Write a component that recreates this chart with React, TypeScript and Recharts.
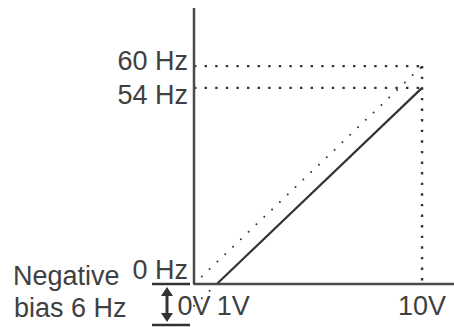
import { LineChart, Line, XAxis, YAxis, ReferenceLine, Customized } from "recharts";

// control voltage (V) and output frequency (Hz)
const voltTicks = [0, 1, 10];
const hzTicks = [0, 54, 60];

const outputV = [1, 10];
const outputHz = [0, 54];
const fullScaleV = [0, 10];
const fullScaleHz = [0, 60];
const biasV = [0, 1];
const biasHz = [-6, 0];

const outputLine = outputV.map((v, i) => ({ v, hz: outputHz[i] }));
const fullScaleLine = fullScaleV.map((v, i) => ({ v, hz: fullScaleHz[i] }));

const FONT = '"Liberation Sans", Arial, sans-serif';
const TEXT = "#404040";
const INK = "#333333";
const FS = 27;

// small nudges so the close 54/60 labels do not collide, 0 Hz sits above the axis
const labelShift: Record<number, number> = { 0: -15, 54: 6, 60: -6 };

function YTick(props: any) {
  const { x, y, payload } = props;
  return (
    <text
      x={x}
      y={y + (labelShift[payload.value] ?? 0)}
      dy="0.36em"
      textAnchor="end"
      fill={TEXT}
      fontSize={FS}
      fontFamily={FONT}
    >
      {`${payload.value} Hz`}
    </text>
  );
}

function XTick(props: any) {
  const { x, y, payload } = props;
  const anchor = payload.value === 1 ? "start" : "middle";
  return (
    <text x={x} y={y} dy="0.71em" textAnchor={anchor} fill={TEXT} fontSize={FS} fontFamily={FONT}>
      {`${payload.value}V`}
    </text>
  );
}

// "Negative bias 6 Hz" note with its bracket and double arrow, left of the axis
function BiasNote() {
  const x = 167;
  const top = 287;
  const bot = 322;
  const hw = 6;
  const hh = 9;
  return (
    <g>
      <line x1={152} y1={284} x2={190} y2={284} stroke={INK} strokeWidth={2.5} />
      <line x1={152} y1={325} x2={190} y2={325} stroke={INK} strokeWidth={2.5} />
      <line x1={x} y1={top + hh - 1} x2={x} y2={bot - hh + 1} stroke={INK} strokeWidth={3} />
      <polygon points={`${x},${top} ${x - hw},${top + hh} ${x + hw},${top + hh}`} fill={INK} />
      <polygon points={`${x},${bot} ${x - hw},${bot - hh} ${x + hw},${bot - hh}`} fill={INK} />
      <g fill={TEXT} fontSize={FS} fontFamily={FONT}>
        <text x={13} y={285}>Negative</text>
        <text x={14} y={317}>bias 6 Hz</text>
      </g>
    </g>
  );
}

export default function App() {
  return (
    <div style={{ width: 454, height: 327 }}>
      <style>{"body{margin:0}"}</style>
      <LineChart width={454} height={327} margin={{ top: 8, right: 0, bottom: 0, left: 0 }}>
        <XAxis
          type="number"
          dataKey="v"
          domain={[0, 11.4]}
          ticks={voltTicks}
          interval={0}
          height={43}
          tickSize={0}
          tickMargin={12}
          tick={<XTick />}
          axisLine={{ stroke: "#4a4a4a", strokeWidth: 2.5 }}
          tickLine={false}
        />
        <YAxis
          type="number"
          dataKey="hz"
          domain={[0, 76]}
          ticks={hzTicks}
          interval={0}
          width={194}
          tickSize={0}
          tickMargin={6}
          tick={<YTick />}
          axisLine={{ stroke: "#4a4a4a", strokeWidth: 2.5 }}
          tickLine={false}
        />
        {/* dotted guides to the 10V end points */}
        {[fullScaleHz[1], outputHz[1]].map((hz) => (
          <ReferenceLine
            key={hz}
            segment={[{ x: voltTicks[0], y: hz }, { x: voltTicks[2], y: hz }]}
            stroke={INK}
            strokeWidth={2.4}
            strokeDasharray="2.4 8.2"
            ifOverflow="visible"
          />
        ))}
        <ReferenceLine
          segment={[{ x: voltTicks[2], y: fullScaleHz[1] }, { x: voltTicks[2], y: 0 }]}
          stroke={INK}
          strokeWidth={2.4}
          strokeDasharray="2.4 8.2"
          ifOverflow="visible"
        />
        {/* bias extension of the output line */}
        <ReferenceLine
          segment={[{ x: biasV[0], y: biasHz[0] }, { x: biasV[1], y: biasHz[1] }]}
          stroke={INK}
          strokeWidth={2}
          strokeLinecap="round"
          strokeDasharray="0 10.8"
          ifOverflow="visible"
        />
        <Line
          data={fullScaleLine}
          dataKey="hz"
          type="linear"
          stroke={INK}
          strokeWidth={2}
          strokeLinecap="round"
          strokeDasharray="0 10.8"
          dot={false}
          isAnimationActive={false}
        />
        <Line
          data={outputLine}
          dataKey="hz"
          type="linear"
          stroke={INK}
          strokeWidth={2.2}
          dot={false}
          isAnimationActive={false}
        />
        <Customized component={<BiasNote />} />
      </LineChart>
    </div>
  );
}
